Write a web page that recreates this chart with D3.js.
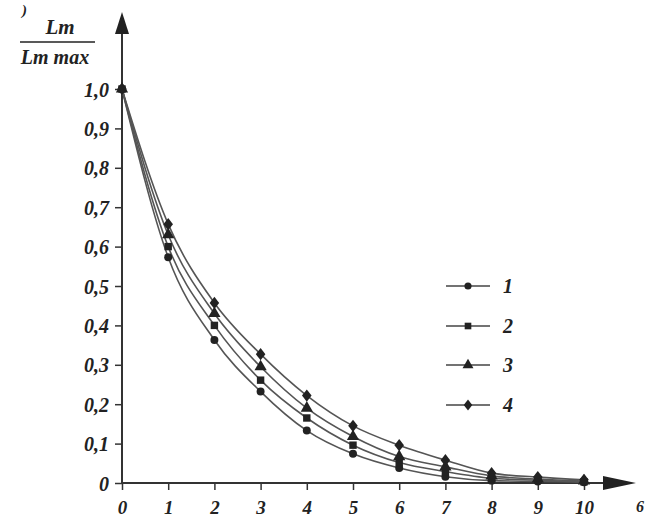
<!DOCTYPE html>
<html><head><meta charset="utf-8">
<script src="https://cdn.jsdelivr.net/npm/d3@7"></script>
<style>
body{margin:0;background:#fff;}
text{font-family:"Liberation Serif","DejaVu Serif",serif;font-style:italic;font-weight:bold;fill:#222;}
</style></head>
<body>
<svg id="c" width="647" height="519"></svg>
<script>
const xValues = [0,1,2,3,4,5,6,7,8,9,10];
const series1 = [1.0,0.573,0.363,0.232,0.133,0.074,0.038,0.016,0.006,0.004,0.002];
const series2 = [1.0,0.600,0.400,0.261,0.165,0.096,0.052,0.029,0.012,0.007,0.003];
const series3 = [1.0,0.630,0.430,0.295,0.190,0.118,0.067,0.041,0.018,0.010,0.005];
const series4 = [1.0,0.657,0.457,0.327,0.222,0.145,0.096,0.058,0.025,0.015,0.008];
const seriesNames = ["1","2","3","4"];
const xTickLabels = ["0","1","2","3","4","5","6","7","8","9","10"];
const yTickValues = [0,0.1,0.2,0.3,0.4,0.5,0.6,0.7,0.8,0.9,1.0];
const yTickLabels = ["0","0,1","0,2","0,3","0,4","0,5","0,6","0,7","0,8","0,9","1,0"];

const svg = d3.select("#c");
const x = d3.scaleLinear().domain([0,10]).range([122,584]);
const y = d3.scaleLinear().domain([0,1]).range([483,89]);
const ink = "#222";

svg.append("line").attr("x1",x(0)).attr("x2",606).attr("y1",y(0)).attr("y2",y(0)).attr("stroke","#333").attr("stroke-width",2);
svg.append("line").attr("x1",x(0)).attr("x2",x(0)).attr("y1",y(0)).attr("y2",30).attr("stroke","#333").attr("stroke-width",2);
svg.append("path").attr("d",`M${x(0)},12 L${x(0)-7},34 L${x(0)+7},34 Z`).attr("fill",ink);
svg.append("path").attr("d",`M636,${y(0)} L603,${y(0)-7} L603,${y(0)+7} Z`).attr("fill",ink);

const xAxis = d3.axisBottom(x).tickValues(xValues).tickFormat((d,i)=>xTickLabels[i]).tickSize(7).tickPadding(11);
const gx = svg.append("g").attr("transform",`translate(0,${y(0)})`).call(xAxis);
gx.select(".domain").remove();
gx.selectAll("line").attr("stroke","#333").attr("stroke-width",1.5);
gx.selectAll("text").attr("font-size",19).attr("font-family",null).attr("fill",ink);

const yAxis = d3.axisLeft(y).tickValues(yTickValues).tickFormat((d,i)=>yTickLabels[i]).tickSize(7).tickPadding(6);
const gy = svg.append("g").attr("transform",`translate(${x(0)},0)`).call(yAxis);
gy.select(".domain").remove();
gy.selectAll("line").attr("stroke","#333").attr("stroke-width",1.5);
gy.selectAll("text").attr("font-size",20).attr("font-family",null).attr("fill",ink).attr("dy","0.35em");

svg.append("text").attr("x",60).attr("y",34).attr("text-anchor","middle").attr("font-size",21).text("Lm");
svg.append("line").attr("x1",20).attr("x2",95).attr("y1",42).attr("y2",42).attr("stroke",ink).attr("stroke-width",1.5);
svg.append("text").attr("x",55).attr("y",64).attr("text-anchor","middle").attr("font-size",20).text("Lm max");
svg.append("text").attr("x",22).attr("y",15).attr("font-size",15).attr("font-weight","normal").text(")");
svg.append("text").attr("x",636).attr("y",512).attr("font-size",16).text("6");

const allSeries = [series1,series2,series3,series4];
const line = d3.line().x((d,i)=>x(xValues[i])).y(d=>y(d)).curve(d3.curveMonotoneX);
allSeries.forEach(s=>{
  svg.append("path").attr("d",line(s)).attr("fill","none").attr("stroke","#555").attr("stroke-width",1.6);
});

const sym = [d3.symbolCircle,d3.symbolSquare,d3.symbolTriangle,d3.symbolDiamond];
const sz = [50,55,65,60];
function marker(g,i,cx,cy,k){
  let p = d3.symbol().type(sym[i]).size(sz[i]*(k||1));
  let t = g.append("path").attr("d",p()).attr("fill",ink);
  if(i===3) t.attr("transform",`translate(${cx},${cy}) scale(1.15,0.85)`);
  else t.attr("transform",`translate(${cx},${cy})`);
}
allSeries.forEach((s,i)=>{
  s.forEach((v,j)=>{ marker(svg,i,x(xValues[j]),y(v)); });
});

const legY = [286,326,365,405];
seriesNames.forEach((n,i)=>{
  const g = svg.append("g");
  g.append("line").attr("x1",446).attr("x2",490).attr("y1",legY[i]).attr("y2",legY[i]).attr("stroke","#444").attr("stroke-width",1.5);
  marker(g,i,468,legY[i],0.8);
  g.append("text").attr("x",503).attr("y",legY[i]).attr("dy","0.35em").attr("font-size",20).text(n);
});
</script>
</body></html>
